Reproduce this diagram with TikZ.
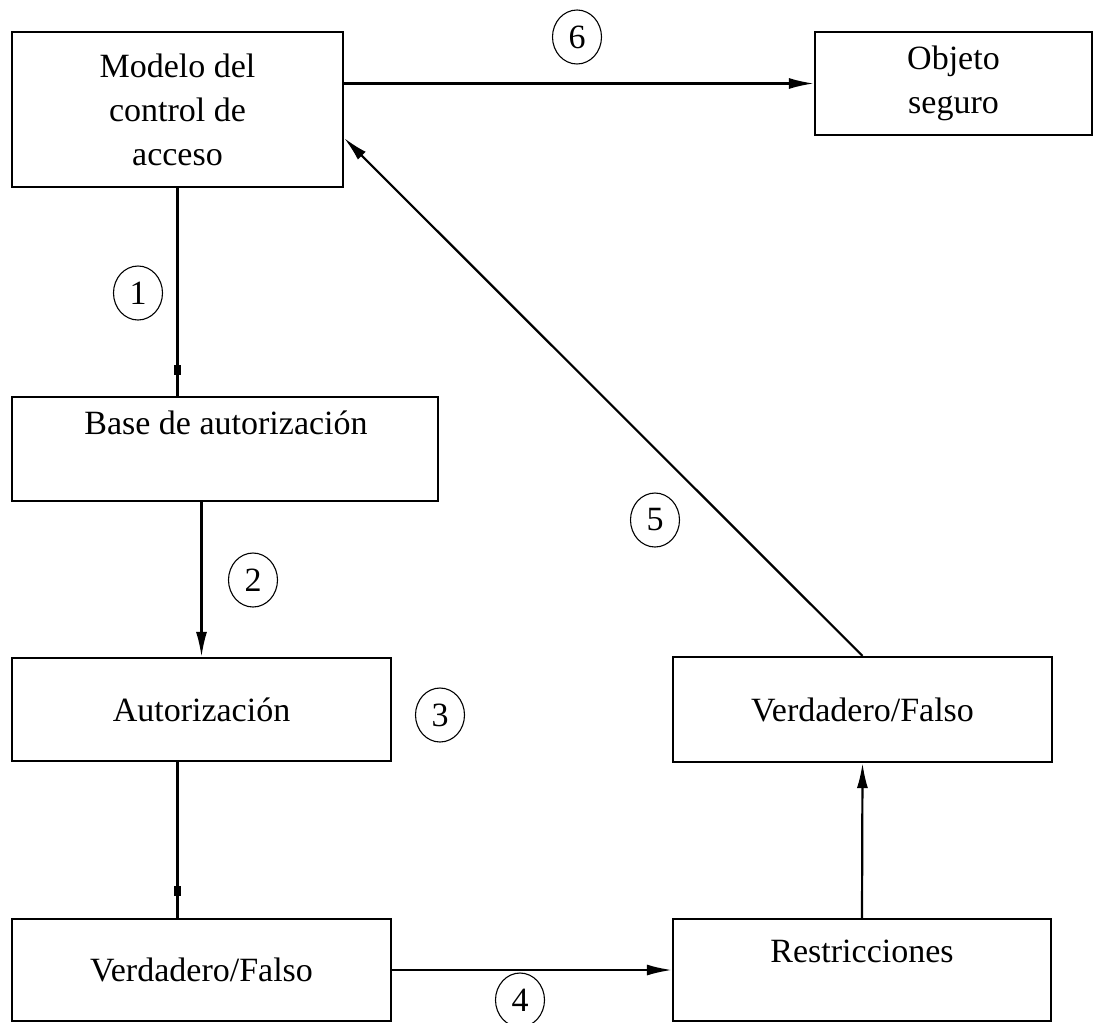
\documentclass[tikz,border=0pt]{standalone}
\usepackage{fontspec}
\setmainfont{Liberation Serif}
\usetikzlibrary{arrows.meta,shapes.geometric,calc}
\newcommand{\bxfont}{\fontsize{34}{44}\selectfont}
\newcommand{\nmfont}{\fontsize{34}{38}\selectfont}
\begin{document}
\begin{tikzpicture}[x=1pt,y=-1pt,
  box/.style={draw, rectangle, line width=2.2pt, inner sep=0pt, align=center, font=\bxfont},
  txt/.style={inner sep=0pt, align=center, font=\bxfont},
  num/.style={draw, ellipse, line width=1.1pt, minimum width=49pt, minimum height=54pt, inner sep=0pt, font=\nmfont},
  link/.style={line width=2.2pt},
  arr/.style={link, -{Latex[length=25pt,width=11pt]}},
  ]
\useasboundingbox (0,0) rectangle (1094,1022);

% boxes
\node[box, minimum width=331pt, minimum height=155pt] (modelo) at (177.5,109.5) {Modelo del\\control de\\acceso};
\node[box, minimum width=277pt, minimum height=103pt] (objeto) at (953.5,83.5) {Objeto\\seguro};
\node[box, minimum width=426pt, minimum height=104pt] (base) at (225,449) {};
\node[txt] (basetxt) at (226,423) {Base de autorización};
\node[box, minimum width=379pt, minimum height=103pt] (autor) at (201.5,709.5) {Autorización};
\node[box, minimum width=379pt, minimum height=105pt] (vfr) at (862.5,709.5) {Verdadero/Falso};
\node[box, minimum width=379pt, minimum height=102pt] (vfl) at (201.5,970) {Verdadero/Falso};
\node[box, minimum width=378pt, minimum height=102pt] (restr) at (862,970) {};
\node[txt] (restrtxt) at (862,951) {Restricciones};

% step numbers
\node[num] (n1) at (138,293) {1};
\node[num] (n2) at (253,580) {2};
\node[num] (n3) at (440,715) {3};
\node[num] (n4) at (520,1000) {4};
\node[num] (n5) at (655,520) {5};
\node[num] (n6) at (577,37) {6};

% connectors
\draw[arr] (modelo.east |- objeto.west) -- (objeto.west);
\draw[link] (modelo.south) -- (modelo.south |- base.north);
\fill ([yshift=26pt]modelo.south |- base.north) ++(-3.5,-5) rectangle ++(7,10);
\draw[arr] (autor.north |- base.south) -- (autor.north);
\coordinate (ab) at (autor.south -| modelo.south);
\draw[link] (ab) -- (ab |- vfl.north);
\fill ([yshift=27pt]ab |- vfl.north) ++(-3.5,-5) rectangle ++(7,10);
\draw[arr] (vfl.east) -- (restr.west);
\draw[arr] (restr.north) -- (vfr.south);
\draw[arr] (vfr.north) -- ([yshift=-28.5pt]modelo.east);
\end{tikzpicture}
\end{document}
